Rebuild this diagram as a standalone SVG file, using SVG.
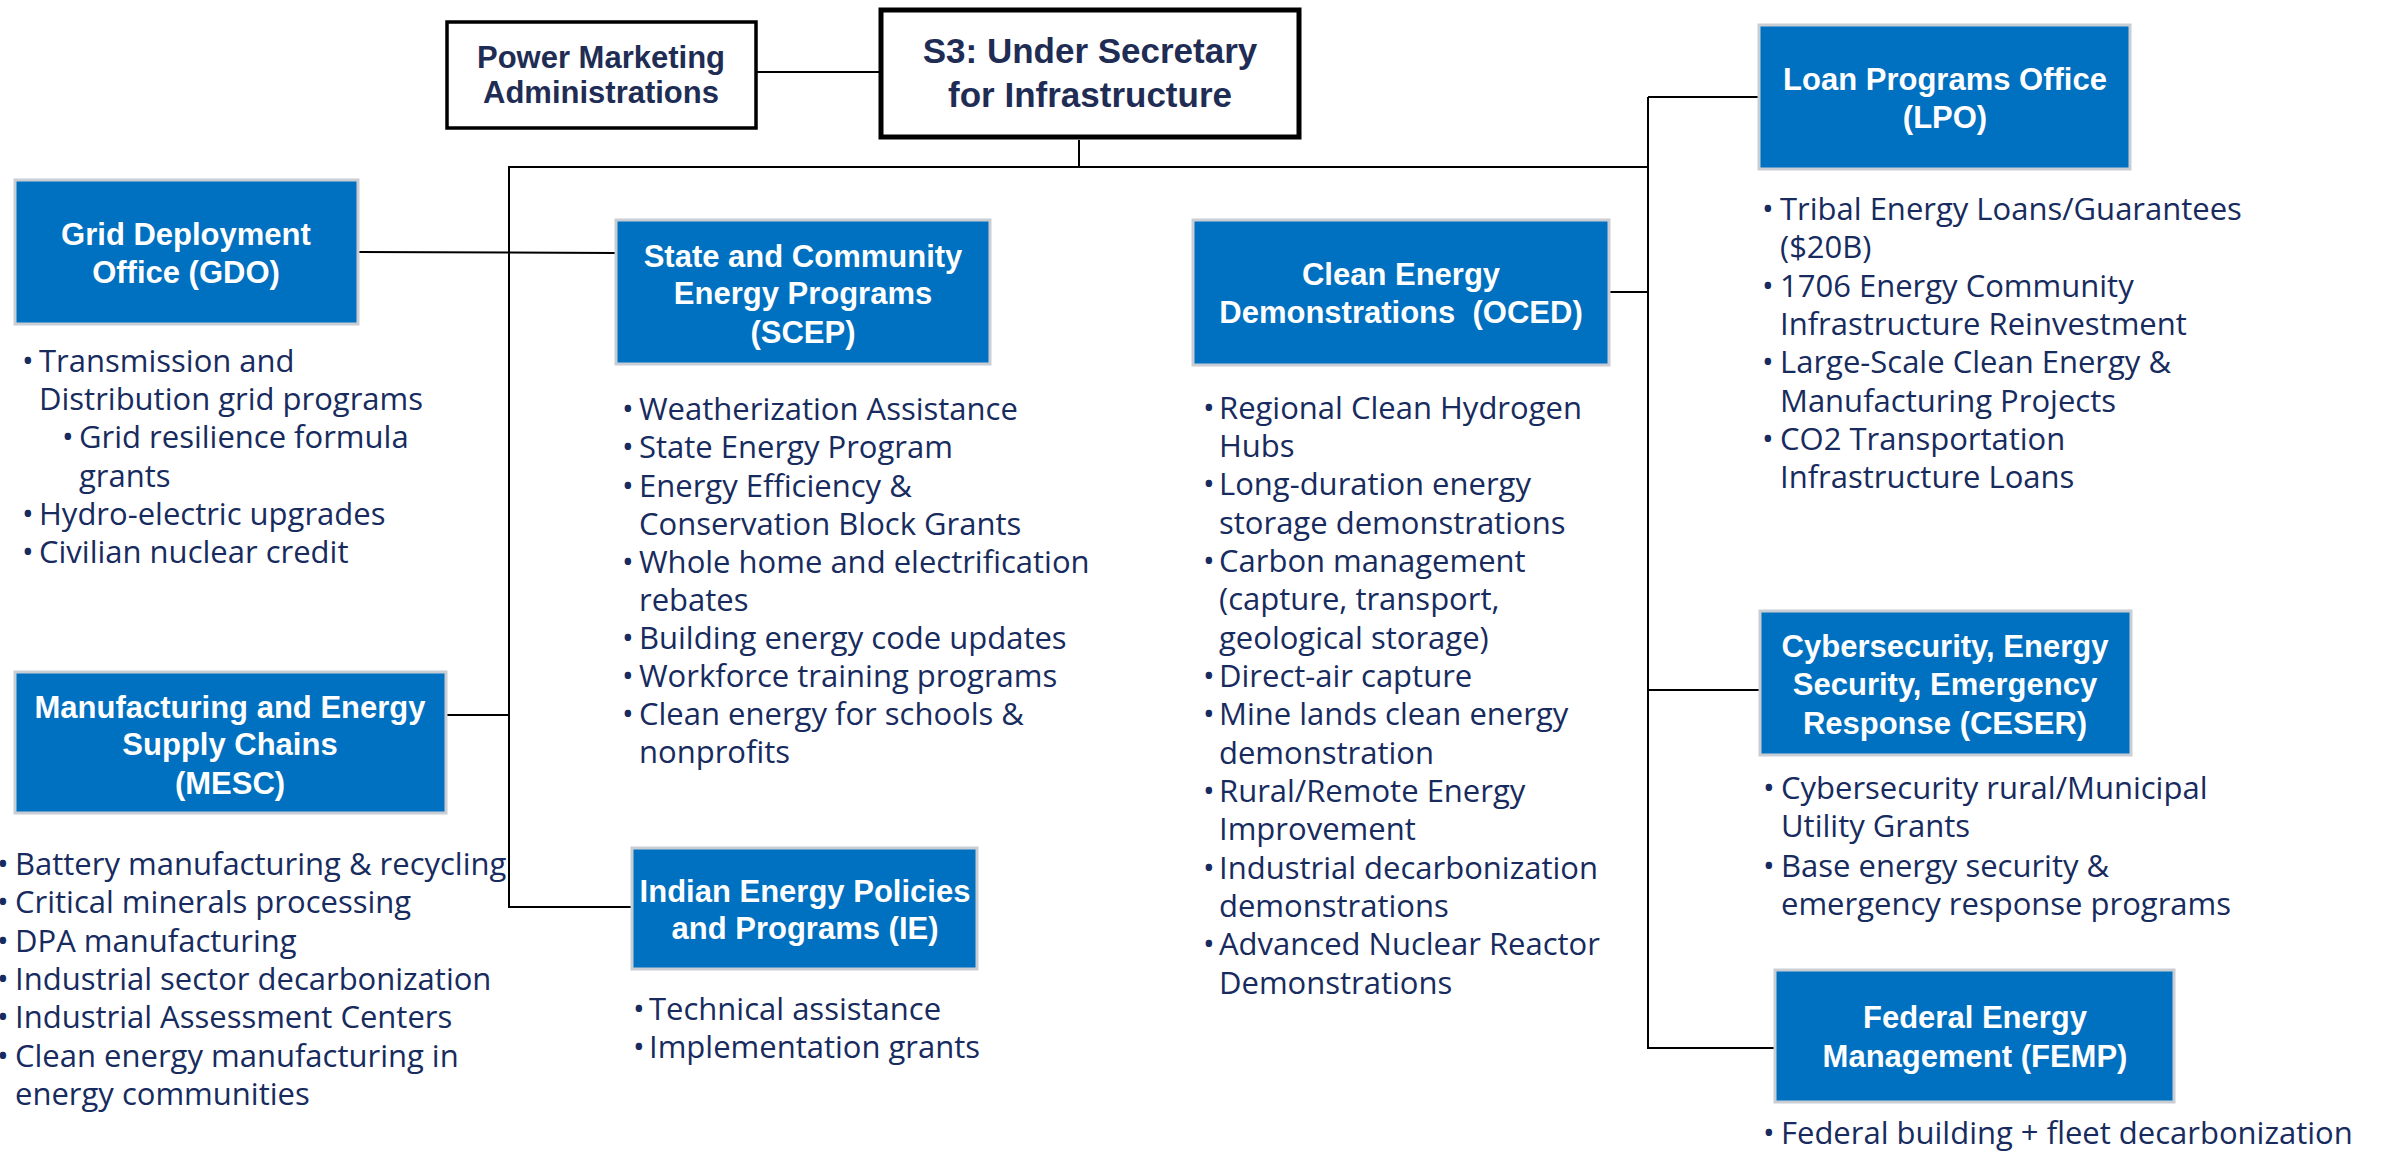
<svg xmlns="http://www.w3.org/2000/svg" width="2385" height="1156" viewBox="0 0 2385 1156">
<style>
.box{fill:#0070C0;stroke:#C9CDD4;stroke-width:3}
.wbox{fill:#ffffff;stroke:#000000}
.t{font-family:"Liberation Sans",Arial,sans-serif;font-weight:bold;font-size:31px;fill:#ffffff;text-anchor:middle}
.tk{font-family:"Liberation Sans",Arial,sans-serif;font-weight:bold;font-size:31px;fill:#1F2D55;text-anchor:middle}
.b{font-family:"Open Sans","Liberation Sans",Arial,sans-serif;font-size:31px;fill:#172B5E}
.con{stroke:#000000;stroke-width:2;fill:none}
</style>
<rect width="2385" height="1156" fill="#ffffff"/>
<g id="connectors">
<line class="con" x1="757" y1="72" x2="881" y2="72"/>
<line class="con" x1="1079" y1="140" x2="1079" y2="167"/>
<line class="con" x1="508" y1="167" x2="1649" y2="167" stroke-width="3"/>
<polyline class="con" points="509,167 509,907 632,907"/>
<line class="con" x1="358" y1="252" x2="616" y2="253"/>
<line class="con" x1="446" y1="715" x2="509" y2="715"/>
<line class="con" x1="1648" y1="97" x2="1648" y2="1049"/>
<line class="con" x1="1648" y1="97" x2="1759" y2="97"/>
<line class="con" x1="1609" y1="292" x2="1648" y2="292"/>
<line class="con" x1="1648" y1="690" x2="1760" y2="690"/>
<line class="con" x1="1648" y1="1048" x2="1775" y2="1048"/>
</g>
<g id="pma">
<rect class="wbox" x="447" y="22" width="309" height="106" stroke-width="3.5"/>
<text class="tk" x="601" y="68">Power Marketing</text>
<text class="tk" x="601" y="103">Administrations</text>
</g>
<g id="s3">
<rect class="wbox" x="881" y="10" width="418" height="127" stroke-width="5"/>
<text class="tk" x="1090" y="63" style="font-size:35px">S3: Under Secretary</text>
<text class="tk" x="1090" y="107" style="font-size:35px">for Infrastructure</text>
</g>
<g id="gdo">
<rect class="box" x="15" y="180" width="343" height="144"/>
<text class="t" x="186" y="245">Grid Deployment</text>
<text class="t" x="186" y="283">Office (GDO)</text>
<text class="b"><tspan x="22" y="372">•</tspan><tspan x="39" y="372">Transmission and</tspan><tspan x="39" y="410">Distribution grid programs</tspan><tspan x="62" y="448">•</tspan><tspan x="79" y="448">Grid resilience formula</tspan><tspan x="79" y="487">grants</tspan><tspan x="22" y="525">•</tspan><tspan x="39" y="525">Hydro-electric upgrades</tspan><tspan x="22" y="563">•</tspan><tspan x="39" y="563">Civilian nuclear credit</tspan></text>
</g>
<g id="mesc">
<rect class="box" x="15" y="672" width="431" height="141"/>
<text class="t" x="230" y="718">Manufacturing and Energy</text>
<text class="t" x="230" y="755">Supply Chains</text>
<text class="t" x="230" y="794">(MESC)</text>
<text class="b"><tspan x="-3" y="875">•</tspan><tspan x="15" y="875">Battery manufacturing &amp; recycling</tspan><tspan x="-3" y="913">•</tspan><tspan x="15" y="913">Critical minerals processing</tspan><tspan x="-3" y="952">•</tspan><tspan x="15" y="952">DPA manufacturing</tspan><tspan x="-3" y="990">•</tspan><tspan x="15" y="990">Industrial sector decarbonization</tspan><tspan x="-3" y="1028">•</tspan><tspan x="15" y="1028">Industrial Assessment Centers</tspan><tspan x="-3" y="1067">•</tspan><tspan x="15" y="1067">Clean energy manufacturing in</tspan><tspan x="15" y="1105">energy communities</tspan></text>
</g>
<g id="scep">
<rect class="box" x="616" y="220" width="374" height="144"/>
<text class="t" x="803" y="267">State and Community</text>
<text class="t" x="803" y="304">Energy Programs</text>
<text class="t" x="803" y="343">(SCEP)</text>
<text class="b"><tspan x="622" y="420">•</tspan><tspan x="639" y="420">Weatherization Assistance</tspan><tspan x="622" y="458">•</tspan><tspan x="639" y="458">State Energy Program</tspan><tspan x="622" y="497">•</tspan><tspan x="639" y="497">Energy Efficiency &amp;</tspan><tspan x="639" y="535">Conservation Block Grants</tspan><tspan x="622" y="573">•</tspan><tspan x="639" y="573">Whole home and electrification</tspan><tspan x="639" y="611">rebates</tspan><tspan x="622" y="649">•</tspan><tspan x="639" y="649">Building energy code updates</tspan><tspan x="622" y="687">•</tspan><tspan x="639" y="687">Workforce training programs</tspan><tspan x="622" y="725">•</tspan><tspan x="639" y="725">Clean energy for schools &amp;</tspan><tspan x="639" y="763">nonprofits</tspan></text>
</g>
<g id="ie">
<rect class="box" x="632" y="848" width="345" height="121"/>
<text class="t" x="805" y="902">Indian Energy Policies</text>
<text class="t" x="805" y="939">and Programs (IE)</text>
<text class="b"><tspan x="633" y="1020">•</tspan><tspan x="649" y="1020">Technical assistance</tspan><tspan x="633" y="1058">•</tspan><tspan x="649" y="1058">Implementation grants</tspan></text>
</g>
<g id="oced">
<rect class="box" x="1193" y="220" width="416" height="145"/>
<text class="t" x="1401" y="285">Clean Energy</text>
<text class="t" x="1401" y="323" xml:space="preserve">Demonstrations  (OCED)</text>
<text class="b"><tspan x="1203" y="419">•</tspan><tspan x="1219" y="419">Regional Clean Hydrogen</tspan><tspan x="1219" y="457">Hubs</tspan><tspan x="1203" y="495">•</tspan><tspan x="1219" y="495">Long-duration energy</tspan><tspan x="1219" y="534">storage demonstrations</tspan><tspan x="1203" y="572">•</tspan><tspan x="1219" y="572">Carbon management</tspan><tspan x="1219" y="610">(capture, transport,</tspan><tspan x="1219" y="649">geological storage)</tspan><tspan x="1203" y="687">•</tspan><tspan x="1219" y="687">Direct-air capture</tspan><tspan x="1203" y="725">•</tspan><tspan x="1219" y="725">Mine lands clean energy</tspan><tspan x="1219" y="764">demonstration</tspan><tspan x="1203" y="802">•</tspan><tspan x="1219" y="802">Rural/Remote Energy</tspan><tspan x="1219" y="840">Improvement</tspan><tspan x="1203" y="879">•</tspan><tspan x="1219" y="879">Industrial decarbonization</tspan><tspan x="1219" y="917">demonstrations</tspan><tspan x="1203" y="955">•</tspan><tspan x="1219" y="955">Advanced Nuclear Reactor</tspan><tspan x="1219" y="994">Demonstrations</tspan></text>
</g>
<g id="lpo">
<rect class="box" x="1759" y="25" width="371" height="144"/>
<text class="t" x="1945" y="90">Loan Programs Office</text>
<text class="t" x="1945" y="128">(LPO)</text>
<text class="b"><tspan x="1762" y="220">•</tspan><tspan x="1780" y="220">Tribal Energy Loans/Guarantees</tspan><tspan x="1780" y="258">($20B)</tspan><tspan x="1762" y="297">•</tspan><tspan x="1780" y="297">1706 Energy Community</tspan><tspan x="1780" y="335">Infrastructure Reinvestment</tspan><tspan x="1762" y="373">•</tspan><tspan x="1780" y="373">Large-Scale Clean Energy &amp;</tspan><tspan x="1780" y="412">Manufacturing Projects</tspan><tspan x="1762" y="450">•</tspan><tspan x="1780" y="450">CO2 Transportation</tspan><tspan x="1780" y="488">Infrastructure Loans</tspan></text>
</g>
<g id="ceser">
<rect class="box" x="1760" y="611" width="371" height="144"/>
<text class="t" x="1945" y="657">Cybersecurity, Energy</text>
<text class="t" x="1945" y="695">Security, Emergency</text>
<text class="t" x="1945" y="734">Response (CESER)</text>
<text class="b"><tspan x="1763" y="799">•</tspan><tspan x="1781" y="799">Cybersecurity rural/Municipal</tspan><tspan x="1781" y="837">Utility Grants</tspan><tspan x="1763" y="877">•</tspan><tspan x="1781" y="877">Base energy security &amp;</tspan><tspan x="1781" y="915">emergency response programs</tspan></text>
</g>
<g id="femp">
<rect class="box" x="1775" y="970" width="399" height="132"/>
<text class="t" x="1975" y="1028">Federal Energy</text>
<text class="t" x="1975" y="1067">Management (FEMP)</text>
<text class="b"><tspan x="1763" y="1144">•</tspan><tspan x="1781" y="1144">Federal building + fleet decarbonization</tspan></text>
</g>
</svg>
